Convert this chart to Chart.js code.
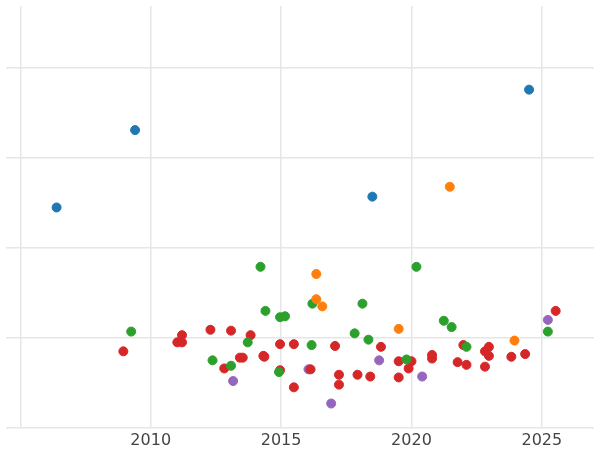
<!DOCTYPE html>
<html lang="en">
<head>
<meta charset="UTF-8">
<title>Scatter</title>
<script src="https://cdn.jsdelivr.net/npm/chart.js"></script>
<style>
  body { margin: 0; background: #fff; }
  .wrap { width: 600px; height: 450px; }
</style>
</head>
<body>
<div class="wrap"><canvas id="chart"></canvas></div>
<script>
// series as [year, value]
const blue = [[2006.39,2.45],[2009.40,3.31],[2018.50,2.57],[2024.51,3.76]];
const orange = [[2021.47,2.68],[2016.35,1.71],[2016.35,1.43],[2016.58,1.35],[2019.51,1.10],[2023.95,0.97]];
const green = [[2009.25,1.07],[2014.21,1.79],[2014.40,1.30],[2014.96,1.23],[2015.15,1.24],[2016.20,1.38],
  [2016.17,0.92],[2017.82,1.05],[2018.12,1.38],[2018.35,0.98],[2013.72,0.95],[2012.37,0.75],[2013.08,0.69],
  [2014.92,0.62],[2019.81,0.76],[2020.19,1.79],[2021.24,1.19],[2021.54,1.12],[2022.11,0.90],[2025.23,1.07]];
const red = [[2008.95,0.85],[2011.20,1.03],[2011.02,0.95],[2011.20,0.95],[2012.29,1.09],[2013.08,1.08],
  [2013.83,1.03],[2012.82,0.66],[2013.42,0.78],[2013.53,0.78],[2014.32,0.80],[2014.36,0.79],[2014.96,0.93],
  [2014.96,0.64],[2015.49,0.93],[2015.49,0.45],[2016.13,0.65],[2017.07,0.91],[2017.22,0.59],[2017.22,0.48],
  [2017.93,0.59],[2018.42,0.57],[2018.83,0.90],[2019.51,0.74],[2019.51,0.56],[2019.89,0.66],[2020.00,0.74],
  [2020.79,0.81],[2020.79,0.77],[2021.77,0.73],[2021.99,0.92],[2022.11,0.70],[2022.82,0.68],[2022.82,0.85],
  [2022.97,0.90],[2022.97,0.80],[2023.83,0.79],[2024.36,0.82],[2025.53,1.30]];
const purple = [[2013.16,0.52],[2016.05,0.65],[2016.92,0.27],[2018.76,0.75],[2020.41,0.57],[2025.23,1.20]];
const xTicks = [2005, 2010, 2015, 2020, 2025];
const yTicks = [0, 1, 2, 3, 4];

const toPts = arr => arr.map(p => ({ x: p[0], y: p[1] }));
const ds = (data, color) => ({
  data: toPts(data), backgroundColor: color, borderColor: color,
  pointRadius: 4.5, pointHoverRadius: 5
});

new Chart(document.getElementById('chart'), {
  type: 'scatter',
  data: {
    datasets: [
      ds(blue, '#1f77b4'), ds(orange, '#ff7f0e'), ds(green, '#2ca02c'),
      ds(red, '#d62728'), ds(purple, '#9467bd')
    ]
  },
  options: {
    responsive: true,
    maintainAspectRatio: false,
    animation: false,
    layout: { padding: { left: -7, right: -7, top: -6, bottom: -3 } },
    plugins: { legend: { display: false }, tooltip: { enabled: false } },
    scales: {
      x: {
        min: 2004.45, max: 2027,
        afterBuildTicks: s => { s.ticks = xTicks.map(v => ({ value: v })); },
        ticks: {
          color: '#444', font: { family: 'DejaVu Sans', size: 16 },
          callback: v => v === 2005 ? '' : String(v), maxRotation: 0
        },
        grid: { color: '#e6e6e6', lineWidth: 1.5, drawTicks: false },
        border: { display: false }
      },
      y: {
        min: 0, max: 4.69,
        afterBuildTicks: s => { s.ticks = yTicks.map(v => ({ value: v })); },
        ticks: { display: false },
        grid: { color: '#e6e6e6', lineWidth: 1.5, drawTicks: false },
        border: { display: false }
      }
    }
  }
});
</script>
</body>
</html>
